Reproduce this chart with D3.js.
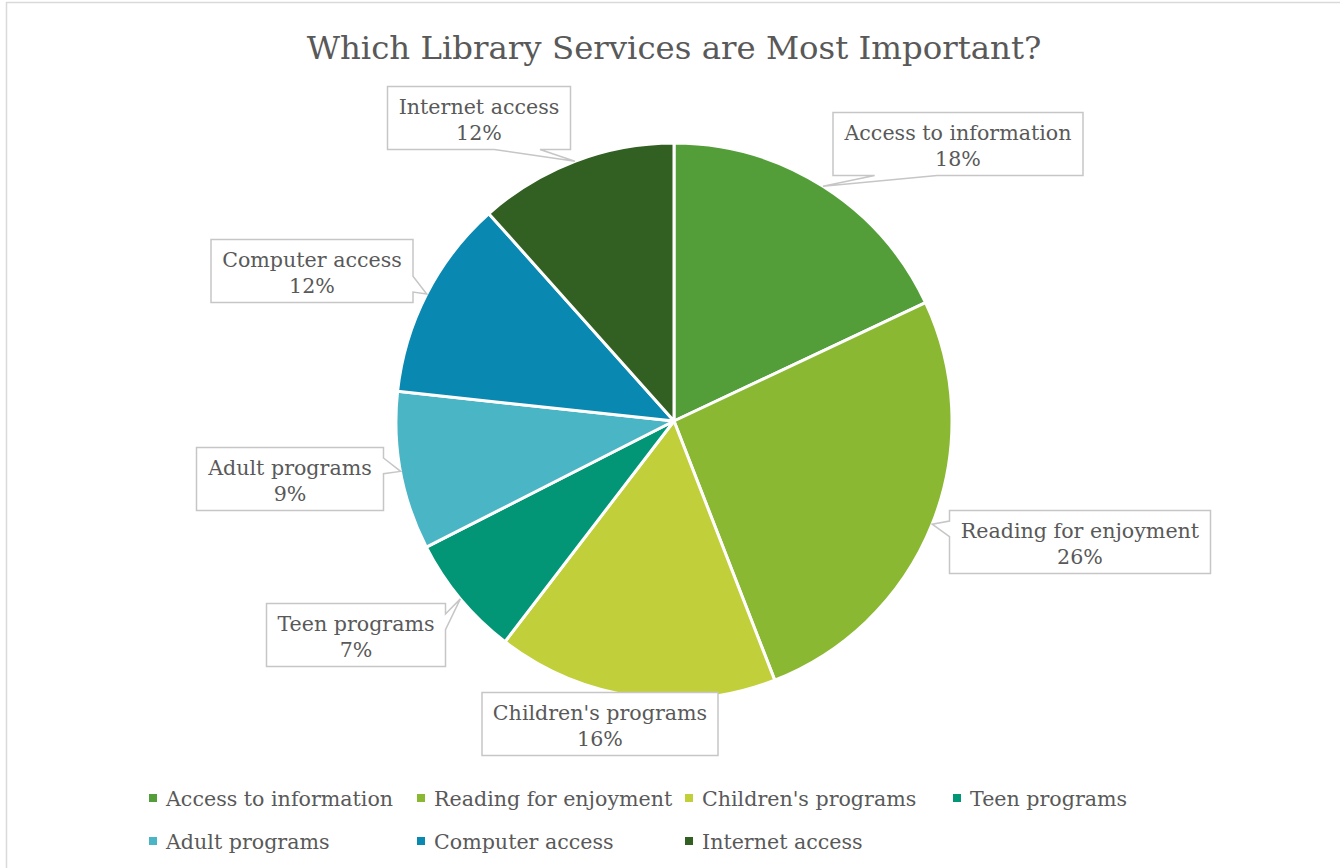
<!DOCTYPE html>
<html>
<body>
    <style>
        body, html {
            margin: 0;
            padding: 0;
            background: #fff;
        }
        svg {
            position: absolute;
            top: 0;
            left: 0;
        }
    </style>

    <svg width="1340" height="868"></svg>

    <script src="https://d3js.org/d3.v7.min.js"></script>

    <script>
        var width = 1340;
        var height = 868;

        // data
        var categories = ["Access to information", "Reading for enjoyment", "Children's programs",
                          "Teen programs", "Adult programs", "Computer access", "Internet access"];
        var values = [18.0, 26.1, 16.3, 7.1, 9.2, 11.7, 11.6];
        var colors = ["#549E39", "#8AB833", "#C0CF3A", "#029676", "#4AB5C4", "#0989B1", "#325F22"];

        // where each callout box sits, relative to the pie centre
        var labelOffsets = [[284, -277], [406, 121], [-74, 303], [-318, 214],
                            [-384, 58], [-362, -150], [-195, -303]];

        var fontFamily = "'DejaVu Serif', Georgia, serif";
        var textColor = "#595959";
        var labelSize = 20.6;

        var cx = 674, cy = 421, radius = 278;

        var svg = d3.select("svg");

        // chart frame
        svg.append("rect")
            .attr("x", 6.5).attr("y", 2.5)
            .attr("width", width + 20).attr("height", height + 20)
            .attr("fill", "#fff")
            .attr("stroke", "#d9d9d9")
            .attr("stroke-width", 1.5);

        svg.append("text")
            .attr("x", 674).attr("y", 59)
            .attr("text-anchor", "middle")
            .attr("font-family", fontFamily)
            .attr("font-size", 32.4)
            .attr("fill", textColor)
            .text("Which Library Services are Most Important?");

        var total = d3.sum(values);
        var pie = d3.pie().sort(null).value(function(d) { return d; });
        var arcs = pie(values);
        var arc = d3.arc().innerRadius(0).outerRadius(radius);

        var g = svg.append("g").attr("transform", "translate(" + cx + "," + cy + ")");

        g.selectAll("path.slice")
            .data(arcs)
            .enter().append("path")
            .attr("class", "slice")
            .attr("d", arc)
            .attr("fill", function(d, i) { return colors[i]; })
            .attr("stroke", "#fff")
            .attr("stroke-width", 3)
            .attr("stroke-linejoin", "round");

        // callout labels (rectangle with a wedge pointing to the slice edge)
        var labels = g.selectAll("g.label")
            .data(arcs)
            .enter().append("g")
            .attr("class", "label");

        labels.each(function(d, i) {
            var lg = d3.select(this);
            var mid = (d.startAngle + d.endAngle) / 2;
            var tip = [radius * Math.sin(mid), -radius * Math.cos(mid)];
            var c = labelOffsets[i];

            var t1 = lg.append("text")
                .attr("font-family", fontFamily)
                .attr("font-size", labelSize)
                .attr("fill", textColor)
                .attr("text-anchor", "middle")
                .attr("x", c[0]);
            t1.append("tspan").attr("x", c[0]).attr("y", c[1] - 4.5).text(categories[i]);
            t1.append("tspan").attr("x", c[0]).attr("y", c[1] + 21.5)
                .text(Math.round(d.value / total * 100) + "%");

            var tw = t1.node().getBBox().width;
            var w = Math.round(tw + 22), h = 63;
            var l = c[0] - w / 2, t = c[1] - h / 2, r = l + w, b = t + h;

            var inside = tip[0] > l && tip[0] < r && tip[1] > t && tip[1] < b;
            var pts;
            if (inside) {
                pts = [[l, t], [r, t], [r, b], [l, b]];
            } else {
                var dxPos = tip[0] - c[0], dyPos = tip[1] - c[1];
                var x1 = l + w * (dxPos > 0 ? 7 : 2) / 12, x2 = l + w * (dxPos > 0 ? 10 : 5) / 12;
                var y1 = t + h * (dyPos > 0 ? 7 : 2) / 12, y2 = t + h * (dyPos > 0 ? 10 : 5) / 12;
                var horiz = Math.abs(dxPos) / w > Math.abs(dyPos) / h;
                pts = [[l, t]];
                if (!horiz && dyPos < 0) pts.push([x1, t], tip, [x2, t]);
                pts.push([r, t]);
                if (horiz && dxPos > 0) pts.push([r, y1], tip, [r, y2]);
                pts.push([r, b]);
                if (!horiz && dyPos > 0) pts.push([x2, b], tip, [x1, b]);
                pts.push([l, b]);
                if (horiz && dxPos < 0) pts.push([l, y2], tip, [l, y1]);
            }

            lg.insert("path", "text")
                .attr("d", d3.line()(pts) + "Z")
                .attr("fill", "#fff")
                .attr("stroke", "#c6c6c6")
                .attr("stroke-width", 1.5);
        });

        // legend
        var legendCols = 4, colWidth = 268, legendX = 149, legendY = 798, rowHeight = 43;
        var legend = svg.selectAll("g.legend")
            .data(categories)
            .enter().append("g")
            .attr("class", "legend")
            .attr("transform", function(d, i) {
                return "translate(" + (legendX + (i % legendCols) * colWidth) + "," +
                    (legendY + Math.floor(i / legendCols) * rowHeight) + ")";
            });

        legend.append("rect")
            .attr("x", 0).attr("y", -4)
            .attr("width", 8).attr("height", 8)
            .attr("fill", function(d, i) { return colors[i]; });

        legend.append("text")
            .attr("x", 17).attr("y", 8)
            .attr("font-family", fontFamily)
            .attr("font-size", labelSize)
            .attr("fill", textColor)
            .text(function(d) { return d; });
    </script>
</body>
</html>
